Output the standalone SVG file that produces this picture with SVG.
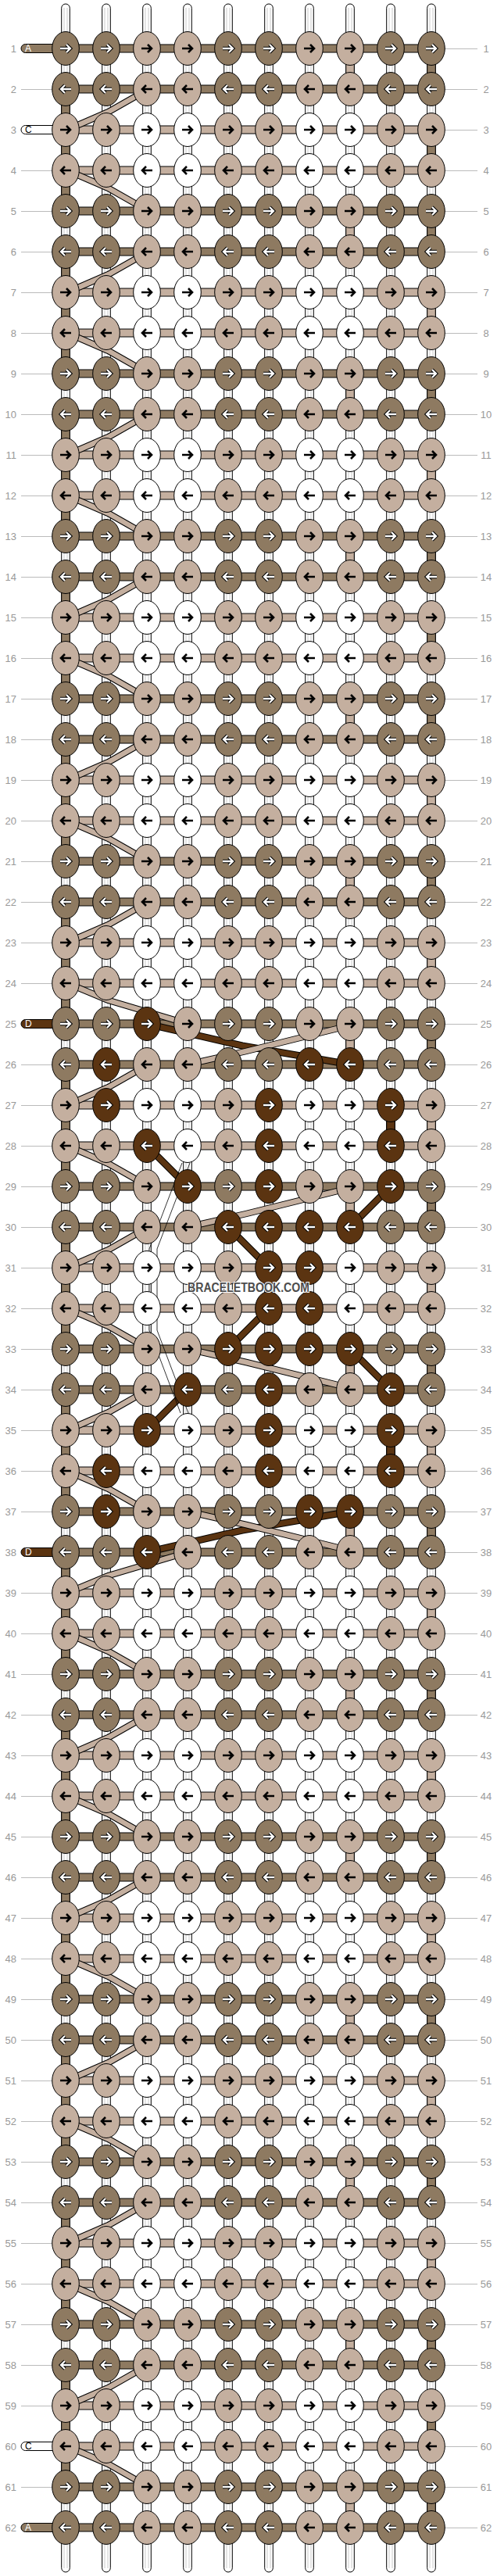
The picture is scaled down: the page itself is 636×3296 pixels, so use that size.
<svg xmlns="http://www.w3.org/2000/svg" xmlns:xlink="http://www.w3.org/1999/xlink" width="636" height="3296" viewBox="0 0 636 3296">
<style>
.e{stroke:#000;stroke-width:1}
.fa{fill:#8e7a61}.fb{fill:#c4af9f}.fc{fill:#fff}.fd{fill:#5b3411}
.ab{fill:none;stroke:#000;stroke-width:4.4}
.aw{fill:none;stroke:#fff;stroke-width:2.3}
.ak{fill:none;stroke:#000;stroke-width:2.6}
.vs{stroke:#000;stroke-width:1}
.col{fill:#fff;stroke:#000;stroke-width:1}
.cl{fill:none;stroke:#bbb;stroke-width:0.8}
.ll{fill:none;stroke:#bbb;stroke-width:1}
.lbl{font-family:"Liberation Sans",Arial,sans-serif;font-size:13px;fill:#999}
.lt{font-family:"Liberation Sans",Arial,sans-serif;font-size:12px}
.o{fill:none;stroke:#000;stroke-width:8.5;stroke-linejoin:round}
.t{fill:none;stroke:#c4af9f;stroke-width:6.5;stroke-linejoin:round}
.od{fill:none;stroke:#000;stroke-width:9;stroke-linejoin:round}
.d{fill:none;stroke:#5b3411;stroke-width:7;stroke-linejoin:round}
.thin{fill:none;stroke:#000;stroke-width:0.8}
</style>
<defs>
<path id="pR" d="M-7,0H5.5M1,-5L6,0L1,5"/>
<path id="pL" d="M7,0H-5.5M-1,-5L-6,0L-1,5"/>
<g id="wR"><use href="#pR" class="ab"/><use href="#pR" class="aw"/></g>
<g id="wL"><use href="#pL" class="ab"/><use href="#pL" class="aw"/></g>
<ellipse id="el" rx="17.3" ry="21.5"/>
<g id="AR"><use href="#el" class="e fa"/><use href="#wR"/></g>
<g id="AL"><use href="#el" class="e fa"/><use href="#wL"/></g>
<g id="DR"><use href="#el" class="e fd"/><use href="#wR"/></g>
<g id="DL"><use href="#el" class="e fd"/><use href="#wL"/></g>
<g id="BR"><use href="#el" class="e fb"/><use href="#pR" class="ak"/></g>
<g id="BL"><use href="#el" class="e fb"/><use href="#pL" class="ak"/></g>
<g id="CR"><use href="#el" class="e fc"/><use href="#pR" class="ak"/></g>
<g id="CL"><use href="#el" class="e fc"/><use href="#pL" class="ak"/></g>
<g id="rDR"><use href="#AR" x="84"/><use href="#AR" x="136"/><use href="#BR" x="188"/><use href="#BR" x="240"/><use href="#AR" x="292"/><use href="#AR" x="344"/><use href="#BR" x="396"/><use href="#BR" x="448"/><use href="#AR" x="500"/><use href="#AR" x="552"/></g>
<g id="rDL"><use href="#AL" x="84"/><use href="#AL" x="136"/><use href="#BL" x="188"/><use href="#BL" x="240"/><use href="#AL" x="292"/><use href="#AL" x="344"/><use href="#BL" x="396"/><use href="#BL" x="448"/><use href="#AL" x="500"/><use href="#AL" x="552"/></g>
<g id="rLR"><use href="#BR" x="84"/><use href="#BR" x="136"/><use href="#CR" x="188"/><use href="#CR" x="240"/><use href="#BR" x="292"/><use href="#BR" x="344"/><use href="#CR" x="396"/><use href="#CR" x="448"/><use href="#BR" x="500"/><use href="#BR" x="552"/></g>
<g id="rLL"><use href="#BL" x="84"/><use href="#BL" x="136"/><use href="#CL" x="188"/><use href="#CL" x="240"/><use href="#BL" x="292"/><use href="#BL" x="344"/><use href="#CL" x="396"/><use href="#CL" x="448"/><use href="#BL" x="500"/><use href="#BL" x="552"/></g>
<rect id="hb" x="84" y="-5" width="468" height="10"/>
<g id="V1"><rect x="442.7" y="19" width="10.6" height="14" class="vs fb"/><rect x="546.7" y="19" width="10.6" height="14" class="vs fa"/></g>
<rect id="V3" x="546.7" y="19" width="10.6" height="14" class="vs fb"/>
<rect id="V3a" x="546.7" y="19" width="10.6" height="14" class="vs fa"/>
<rect id="C1" x="78.7" y="0" width="10.6" height="118" class="vs fa"/>
<path id="t1" d="M86,52L139,29L190,0"/>
<path id="t2" d="M86,0L139,23L190,52"/>
<g id="T1"><use href="#t1" class="o"/><use href="#t1" class="t"/></g>
<g id="T2"><use href="#t2" class="o"/><use href="#t2" class="t"/></g>
</defs>
<rect width="636" height="3296" fill="#fff"/>
<path class="ll" d="M27,62.5H611M27,114.5H611M27,166.5H611M27,218.5H611M27,270.5H611M27,322.5H611M27,374.5H611M27,426.5H611M27,478.5H611M27,530.5H611M27,582.5H611M27,634.5H611M27,686.5H611M27,738.5H611M27,790.5H611M27,842.5H611M27,894.5H611M27,946.5H611M27,998.5H611M27,1050.5H611M27,1102.5H611M27,1154.5H611M27,1206.5H611M27,1258.5H611M27,1310.5H611M27,1362.5H611M27,1414.5H611M27,1466.5H611M27,1518.5H611M27,1570.5H611M27,1622.5H611M27,1674.5H611M27,1726.5H611M27,1778.5H611M27,1830.5H611M27,1882.5H611M27,1934.5H611M27,1986.5H611M27,2038.5H611M27,2090.5H611M27,2142.5H611M27,2194.5H611M27,2246.5H611M27,2298.5H611M27,2350.5H611M27,2402.5H611M27,2454.5H611M27,2506.5H611M27,2558.5H611M27,2610.5H611M27,2662.5H611M27,2714.5H611M27,2766.5H611M27,2818.5H611M27,2870.5H611M27,2922.5H611M27,2974.5H611M27,3026.5H611M27,3078.5H611M27,3130.5H611M27,3182.5H611M27,3234.5H611"/>
<g id="warps">
<rect class="col" x="78.7" y="5" width="10.6" height="3286" rx="5.3"/>
<rect class="col" x="130.7" y="5" width="10.6" height="3286" rx="5.3"/>
<rect class="col" x="182.7" y="5" width="10.6" height="3286" rx="5.3"/>
<rect class="col" x="234.7" y="5" width="10.6" height="3286" rx="5.3"/>
<rect class="col" x="286.7" y="5" width="10.6" height="3286" rx="5.3"/>
<rect class="col" x="338.7" y="5" width="10.6" height="3286" rx="5.3"/>
<rect class="col" x="390.7" y="5" width="10.6" height="3286" rx="5.3"/>
<rect class="col" x="442.7" y="5" width="10.6" height="3286" rx="5.3"/>
<rect class="col" x="494.7" y="5" width="10.6" height="3286" rx="5.3"/>
<rect class="col" x="546.7" y="5" width="10.6" height="3286" rx="5.3"/>
<path class="cl" d="M82,10V3286M86,10V3286M134,10V3286M138,10V3286M186,10V3286M190,10V3286M238,10V3286M242,10V3286M290,10V3286M294,10V3286M342,10V3286M346,10V3286M394,10V3286M398,10V3286M446,10V3286M450,10V3286M498,10V3286M502,10V3286M550,10V3286M554,10V3286"/>
</g>
<g id="vsegs">
<use href="#V1" y="62"/><use href="#V1" y="270"/><use href="#V1" y="478"/><use href="#V1" y="686"/><use href="#V1" y="894"/><use href="#V1" y="1102"/><use href="#V1" y="1310"/><use href="#V1" y="1518"/><use href="#V1" y="1726"/><use href="#V1" y="1934"/><use href="#V1" y="2142"/><use href="#V1" y="2350"/><use href="#V1" y="2558"/><use href="#V1" y="2766"/><use href="#V1" y="2974"/><use href="#V1" y="3182"/>
<use href="#V3a" y="166"/><use href="#V3" y="374"/><use href="#V3" y="582"/><use href="#V3a" y="790"/><use href="#V3" y="998"/><use href="#V3" y="1206"/><use href="#V3" y="1414"/><use href="#V3" y="1622"/><use href="#V3" y="1830"/><use href="#V3" y="2038"/><use href="#V3" y="2246"/><use href="#V3" y="2454"/><use href="#V3" y="2662"/><use href="#V3" y="2870"/><use href="#V3a" y="3078"/>
<use href="#C1" y="133"/><use href="#C1" y="341"/><use href="#C1" y="549"/><use href="#C1" y="757"/><use href="#C1" y="965"/><use href="#C1" y="1173"/><use href="#C1" y="1381"/><use href="#C1" y="1589"/><use href="#C1" y="1797"/><use href="#C1" y="2005"/><use href="#C1" y="2213"/><use href="#C1" y="2421"/><use href="#C1" y="2629"/><use href="#C1" y="2837"/><use href="#C1" y="3045"/>
<rect x="494.7" y="1433" width="10.6" height="14" class="vs fd"/>
<rect x="494.7" y="1849" width="10.6" height="14" class="vs fd"/>
</g>
<g id="bands">
<use href="#hb" class="vs fa" y="62"/><use href="#hb" class="vs fa" y="114"/><use href="#hb" class="vs fb" y="166"/><use href="#hb" class="vs fb" y="218"/>
<use href="#hb" class="vs fa" y="270"/><use href="#hb" class="vs fa" y="322"/><use href="#hb" class="vs fb" y="374"/><use href="#hb" class="vs fb" y="426"/>
<use href="#hb" class="vs fa" y="478"/><use href="#hb" class="vs fa" y="530"/><use href="#hb" class="vs fb" y="582"/><use href="#hb" class="vs fb" y="634"/>
<use href="#hb" class="vs fa" y="686"/><use href="#hb" class="vs fa" y="738"/><use href="#hb" class="vs fb" y="790"/><use href="#hb" class="vs fb" y="842"/>
<use href="#hb" class="vs fa" y="894"/><use href="#hb" class="vs fa" y="946"/><use href="#hb" class="vs fb" y="998"/><use href="#hb" class="vs fb" y="1050"/>
<use href="#hb" class="vs fa" y="1102"/><use href="#hb" class="vs fa" y="1154"/><use href="#hb" class="vs fb" y="1206"/><use href="#hb" class="vs fb" y="1258"/>
<use href="#hb" class="vs fa" y="1310"/><use href="#hb" class="vs fa" y="1362"/><use href="#hb" class="vs fb" y="1414"/><use href="#hb" class="vs fb" y="1466"/>
<use href="#hb" class="vs fa" y="1518"/><use href="#hb" class="vs fa" y="1570"/><use href="#hb" class="vs fb" y="1622"/><use href="#hb" class="vs fb" y="1674"/>
<use href="#hb" class="vs fa" y="1726"/><use href="#hb" class="vs fa" y="1778"/><use href="#hb" class="vs fb" y="1830"/><use href="#hb" class="vs fb" y="1882"/>
<use href="#hb" class="vs fa" y="1934"/><use href="#hb" class="vs fa" y="1986"/><use href="#hb" class="vs fb" y="2038"/><use href="#hb" class="vs fb" y="2090"/>
<use href="#hb" class="vs fa" y="2142"/><use href="#hb" class="vs fa" y="2194"/><use href="#hb" class="vs fb" y="2246"/><use href="#hb" class="vs fb" y="2298"/>
<use href="#hb" class="vs fa" y="2350"/><use href="#hb" class="vs fa" y="2402"/><use href="#hb" class="vs fb" y="2454"/><use href="#hb" class="vs fb" y="2506"/>
<use href="#hb" class="vs fa" y="2558"/><use href="#hb" class="vs fa" y="2610"/><use href="#hb" class="vs fb" y="2662"/><use href="#hb" class="vs fb" y="2714"/>
<use href="#hb" class="vs fa" y="2766"/><use href="#hb" class="vs fa" y="2818"/><use href="#hb" class="vs fb" y="2870"/><use href="#hb" class="vs fb" y="2922"/>
<use href="#hb" class="vs fa" y="2974"/><use href="#hb" class="vs fa" y="3026"/><use href="#hb" class="vs fb" y="3078"/><use href="#hb" class="vs fb" y="3130"/>
<use href="#hb" class="vs fa" y="3182"/><use href="#hb" class="vs fa" y="3234"/>
</g>
<g id="ends">
<g id="endA1"><rect x="27" y="56.5" width="50" height="11" rx="5.5" class="vs fa"/><text x="32" y="66.3" class="lt" fill="#fff">A</text></g>
<g id="endC3"><rect x="27" y="160.5" width="50" height="11" rx="5.5" class="vs fc"/><text x="32" y="170.3" class="lt" fill="#000">C</text></g>
<g id="endD25"><rect x="27" y="1304.5" width="50" height="11" rx="5.5" class="vs fd"/><text x="32" y="1314.3" class="lt" fill="#fff">D</text></g>
<g id="endD38"><rect x="27" y="1980.5" width="50" height="11" rx="5.5" class="vs fd"/><text x="32" y="1990.3" class="lt" fill="#fff">D</text></g>
<g id="endC60"><rect x="27" y="3124.5" width="50" height="11" rx="5.5" class="vs fc"/><text x="32" y="3134.3" class="lt" fill="#000">C</text></g>
<g id="endA62"><rect x="27" y="3228.5" width="50" height="11" rx="5.5" class="vs fa"/><text x="32" y="3238.3" class="lt" fill="#fff">A</text></g>
</g>
<g id="connectors">
<use href="#T1" y="114"/><use href="#T1" y="322"/><use href="#T1" y="530"/><use href="#T1" y="738"/><use href="#T1" y="946"/><use href="#T1" y="1154"/><use href="#T1" y="1362"/><use href="#T1" y="1570"/><use href="#T1" y="1778"/><use href="#T1" y="2194"/><use href="#T1" y="2402"/><use href="#T1" y="2610"/><use href="#T1" y="2818"/><use href="#T1" y="3026"/>
<use href="#T2" y="218"/><use href="#T2" y="426"/><use href="#T2" y="634"/><use href="#T2" y="842"/><use href="#T2" y="1050"/><use href="#T2" y="1466"/><use href="#T2" y="1674"/><use href="#T2" y="1882"/><use href="#T2" y="2090"/><use href="#T2" y="2298"/><use href="#T2" y="2506"/><use href="#T2" y="2714"/><use href="#T2" y="2922"/><use href="#T2" y="3130"/>
<path class="o" d="M86,1258L139,1280L240,1310"/><path class="t" d="M86,1258L139,1280L240,1310"/>
<path class="od" d="M188,1310L310,1338L448,1362"/><path class="d" d="M188,1310L310,1338L448,1362"/>
<path class="o" d="M448,1312L315,1345L240,1362"/><path class="t" d="M448,1312L315,1345L240,1362"/>
<path class="od" d="M188,1466L240,1518"/><path class="d" d="M188,1466L240,1518"/>
<path class="od" d="M500,1518L448,1570"/><path class="d" d="M500,1518L448,1570"/>
<path class="o" d="M448,1520L315,1553L240,1570"/><path class="t" d="M448,1520L315,1553L240,1570"/>
<path class="od" d="M292,1570L344,1622"/><path class="d" d="M292,1570L344,1622"/>
<path class="od" d="M344,1674L292,1726"/><path class="d" d="M344,1674L292,1726"/>
<path class="o" d="M240,1726L315,1743L448,1776"/><path class="t" d="M240,1726L315,1743L448,1776"/>
<path class="od" d="M448,1726L500,1778"/><path class="d" d="M448,1726L500,1778"/>
<path class="od" d="M240,1778L188,1830"/><path class="d" d="M240,1778L188,1830"/>
<path class="od" d="M448,1934L310,1958L188,1986"/><path class="d" d="M448,1934L310,1958L188,1986"/>
<path class="o" d="M240,1934L315,1951L448,1984"/><path class="t" d="M240,1934L315,1951L448,1984"/>
<path class="o" d="M240,1986L139,2016L86,2038"/><path class="t" d="M240,1986L139,2016L86,2038"/>
<path class="thin" d="M233,1488L191,1598L191,1702L231,1808M243,1488L201,1598L201,1702L241,1808"/>
</g>
<g id="knots">
<use id="row1" href="#rDR" y="62"/><use id="row2" href="#rDL" y="114"/><use id="row3" href="#rLR" y="166"/><use id="row4" href="#rLL" y="218"/>
<use id="row5" href="#rDR" y="270"/><use id="row6" href="#rDL" y="322"/><use id="row7" href="#rLR" y="374"/><use id="row8" href="#rLL" y="426"/>
<use id="row9" href="#rDR" y="478"/><use id="row10" href="#rDL" y="530"/><use id="row11" href="#rLR" y="582"/><use id="row12" href="#rLL" y="634"/>
<use id="row13" href="#rDR" y="686"/><use id="row14" href="#rDL" y="738"/><use id="row15" href="#rLR" y="790"/><use id="row16" href="#rLL" y="842"/>
<use id="row17" href="#rDR" y="894"/><use id="row18" href="#rDL" y="946"/><use id="row19" href="#rLR" y="998"/><use id="row20" href="#rLL" y="1050"/>
<use id="row21" href="#rDR" y="1102"/><use id="row22" href="#rDL" y="1154"/><use id="row23" href="#rLR" y="1206"/><use id="row24" href="#rLL" y="1258"/>
<g id="row25" transform="translate(0,1310)"><use href="#AR" x="84"/><use href="#AR" x="136"/><use href="#DR" x="188"/><use href="#BR" x="240"/><use href="#AR" x="292"/><use href="#AR" x="344"/><use href="#BR" x="396"/><use href="#BR" x="448"/><use href="#AR" x="500"/><use href="#AR" x="552"/></g>
<g id="row26" transform="translate(0,1362)"><use href="#AL" x="84"/><use href="#DL" x="136"/><use href="#BL" x="188"/><use href="#BL" x="240"/><use href="#AL" x="292"/><use href="#AL" x="344"/><use href="#DL" x="396"/><use href="#DL" x="448"/><use href="#AL" x="500"/><use href="#AL" x="552"/></g>
<g id="row27" transform="translate(0,1414)"><use href="#BR" x="84"/><use href="#DR" x="136"/><use href="#CR" x="188"/><use href="#CR" x="240"/><use href="#BR" x="292"/><use href="#DR" x="344"/><use href="#CR" x="396"/><use href="#CR" x="448"/><use href="#DR" x="500"/><use href="#BR" x="552"/></g>
<g id="row28" transform="translate(0,1466)"><use href="#BL" x="84"/><use href="#BL" x="136"/><use href="#DL" x="188"/><use href="#CL" x="240"/><use href="#BL" x="292"/><use href="#DL" x="344"/><use href="#CL" x="396"/><use href="#CL" x="448"/><use href="#DL" x="500"/><use href="#BL" x="552"/></g>
<g id="row29" transform="translate(0,1518)"><use href="#AR" x="84"/><use href="#AR" x="136"/><use href="#BR" x="188"/><use href="#DR" x="240"/><use href="#AR" x="292"/><use href="#DR" x="344"/><use href="#BR" x="396"/><use href="#BR" x="448"/><use href="#DR" x="500"/><use href="#AR" x="552"/></g>
<g id="row30" transform="translate(0,1570)"><use href="#AL" x="84"/><use href="#AL" x="136"/><use href="#BL" x="188"/><use href="#BL" x="240"/><use href="#DL" x="292"/><use href="#DL" x="344"/><use href="#DL" x="396"/><use href="#DL" x="448"/><use href="#AL" x="500"/><use href="#AL" x="552"/></g>
<g id="row31" transform="translate(0,1622)"><use href="#BR" x="84"/><use href="#BR" x="136"/><use href="#CR" x="188"/><use href="#CR" x="240"/><use href="#BR" x="292"/><use href="#DR" x="344"/><use href="#DR" x="396"/><use href="#CR" x="448"/><use href="#BR" x="500"/><use href="#BR" x="552"/></g>
<g id="row32" transform="translate(0,1674)"><use href="#BL" x="84"/><use href="#BL" x="136"/><use href="#CL" x="188"/><use href="#CL" x="240"/><use href="#BL" x="292"/><use href="#DL" x="344"/><use href="#DL" x="396"/><use href="#CL" x="448"/><use href="#BL" x="500"/><use href="#BL" x="552"/></g>
<g id="row33" transform="translate(0,1726)"><use href="#AR" x="84"/><use href="#AR" x="136"/><use href="#BR" x="188"/><use href="#BR" x="240"/><use href="#DR" x="292"/><use href="#DR" x="344"/><use href="#DR" x="396"/><use href="#DR" x="448"/><use href="#AR" x="500"/><use href="#AR" x="552"/></g>
<g id="row34" transform="translate(0,1778)"><use href="#AL" x="84"/><use href="#AL" x="136"/><use href="#BL" x="188"/><use href="#DL" x="240"/><use href="#AL" x="292"/><use href="#DL" x="344"/><use href="#BL" x="396"/><use href="#BL" x="448"/><use href="#DL" x="500"/><use href="#AL" x="552"/></g>
<g id="row35" transform="translate(0,1830)"><use href="#BR" x="84"/><use href="#BR" x="136"/><use href="#DR" x="188"/><use href="#CR" x="240"/><use href="#BR" x="292"/><use href="#DR" x="344"/><use href="#CR" x="396"/><use href="#CR" x="448"/><use href="#DR" x="500"/><use href="#BR" x="552"/></g>
<g id="row36" transform="translate(0,1882)"><use href="#BL" x="84"/><use href="#DL" x="136"/><use href="#CL" x="188"/><use href="#CL" x="240"/><use href="#BL" x="292"/><use href="#DL" x="344"/><use href="#CL" x="396"/><use href="#CL" x="448"/><use href="#DL" x="500"/><use href="#BL" x="552"/></g>
<g id="row37" transform="translate(0,1934)"><use href="#AR" x="84"/><use href="#DR" x="136"/><use href="#BR" x="188"/><use href="#BR" x="240"/><use href="#AR" x="292"/><use href="#AR" x="344"/><use href="#DR" x="396"/><use href="#DR" x="448"/><use href="#AR" x="500"/><use href="#AR" x="552"/></g>
<g id="row38" transform="translate(0,1986)"><use href="#AL" x="84"/><use href="#AL" x="136"/><use href="#DL" x="188"/><use href="#BL" x="240"/><use href="#AL" x="292"/><use href="#AL" x="344"/><use href="#BL" x="396"/><use href="#BL" x="448"/><use href="#AL" x="500"/><use href="#AL" x="552"/></g>
<use id="row39" href="#rLR" y="2038"/><use id="row40" href="#rLL" y="2090"/>
<use id="row41" href="#rDR" y="2142"/><use id="row42" href="#rDL" y="2194"/><use id="row43" href="#rLR" y="2246"/><use id="row44" href="#rLL" y="2298"/>
<use id="row45" href="#rDR" y="2350"/><use id="row46" href="#rDL" y="2402"/><use id="row47" href="#rLR" y="2454"/><use id="row48" href="#rLL" y="2506"/>
<use id="row49" href="#rDR" y="2558"/><use id="row50" href="#rDL" y="2610"/><use id="row51" href="#rLR" y="2662"/><use id="row52" href="#rLL" y="2714"/>
<use id="row53" href="#rDR" y="2766"/><use id="row54" href="#rDL" y="2818"/><use id="row55" href="#rLR" y="2870"/><use id="row56" href="#rLL" y="2922"/>
<use id="row57" href="#rDR" y="2974"/><use id="row58" href="#rDL" y="3026"/><use id="row59" href="#rLR" y="3078"/><use id="row60" href="#rLL" y="3130"/>
<use id="row61" href="#rDR" y="3182"/><use id="row62" href="#rDL" y="3234"/>
</g>
<g id="labels-left" class="lbl" text-anchor="end">
<text x="21" y="66.5">1</text><text x="21" y="118.5">2</text><text x="21" y="170.5">3</text><text x="21" y="222.5">4</text><text x="21" y="274.5">5</text><text x="21" y="326.5">6</text><text x="21" y="378.5">7</text><text x="21" y="430.5">8</text><text x="21" y="482.5">9</text><text x="21" y="534.5">10</text><text x="21" y="586.5">11</text><text x="21" y="638.5">12</text><text x="21" y="690.5">13</text><text x="21" y="742.5">14</text><text x="21" y="794.5">15</text><text x="21" y="846.5">16</text><text x="21" y="898.5">17</text><text x="21" y="950.5">18</text><text x="21" y="1002.5">19</text><text x="21" y="1054.5">20</text><text x="21" y="1106.5">21</text><text x="21" y="1158.5">22</text><text x="21" y="1210.5">23</text><text x="21" y="1262.5">24</text><text x="21" y="1314.5">25</text><text x="21" y="1366.5">26</text><text x="21" y="1418.5">27</text><text x="21" y="1470.5">28</text><text x="21" y="1522.5">29</text><text x="21" y="1574.5">30</text><text x="21" y="1626.5">31</text><text x="21" y="1678.5">32</text><text x="21" y="1730.5">33</text><text x="21" y="1782.5">34</text><text x="21" y="1834.5">35</text><text x="21" y="1886.5">36</text><text x="21" y="1938.5">37</text><text x="21" y="1990.5">38</text><text x="21" y="2042.5">39</text><text x="21" y="2094.5">40</text><text x="21" y="2146.5">41</text><text x="21" y="2198.5">42</text><text x="21" y="2250.5">43</text><text x="21" y="2302.5">44</text><text x="21" y="2354.5">45</text><text x="21" y="2406.5">46</text><text x="21" y="2458.5">47</text><text x="21" y="2510.5">48</text><text x="21" y="2562.5">49</text><text x="21" y="2614.5">50</text><text x="21" y="2666.5">51</text><text x="21" y="2718.5">52</text><text x="21" y="2770.5">53</text><text x="21" y="2822.5">54</text><text x="21" y="2874.5">55</text><text x="21" y="2926.5">56</text><text x="21" y="2978.5">57</text><text x="21" y="3030.5">58</text><text x="21" y="3082.5">59</text><text x="21" y="3134.5">60</text><text x="21" y="3186.5">61</text><text x="21" y="3238.5">62</text>
</g>
<g id="labels-right" class="lbl" text-anchor="middle">
<text x="622" y="66.5">1</text><text x="622" y="118.5">2</text><text x="622" y="170.5">3</text><text x="622" y="222.5">4</text><text x="622" y="274.5">5</text><text x="622" y="326.5">6</text><text x="622" y="378.5">7</text><text x="622" y="430.5">8</text><text x="622" y="482.5">9</text><text x="622" y="534.5">10</text><text x="622" y="586.5">11</text><text x="622" y="638.5">12</text><text x="622" y="690.5">13</text><text x="622" y="742.5">14</text><text x="622" y="794.5">15</text><text x="622" y="846.5">16</text><text x="622" y="898.5">17</text><text x="622" y="950.5">18</text><text x="622" y="1002.5">19</text><text x="622" y="1054.5">20</text><text x="622" y="1106.5">21</text><text x="622" y="1158.5">22</text><text x="622" y="1210.5">23</text><text x="622" y="1262.5">24</text><text x="622" y="1314.5">25</text><text x="622" y="1366.5">26</text><text x="622" y="1418.5">27</text><text x="622" y="1470.5">28</text><text x="622" y="1522.5">29</text><text x="622" y="1574.5">30</text><text x="622" y="1626.5">31</text><text x="622" y="1678.5">32</text><text x="622" y="1730.5">33</text><text x="622" y="1782.5">34</text><text x="622" y="1834.5">35</text><text x="622" y="1886.5">36</text><text x="622" y="1938.5">37</text><text x="622" y="1990.5">38</text><text x="622" y="2042.5">39</text><text x="622" y="2094.5">40</text><text x="622" y="2146.5">41</text><text x="622" y="2198.5">42</text><text x="622" y="2250.5">43</text><text x="622" y="2302.5">44</text><text x="622" y="2354.5">45</text><text x="622" y="2406.5">46</text><text x="622" y="2458.5">47</text><text x="622" y="2510.5">48</text><text x="622" y="2562.5">49</text><text x="622" y="2614.5">50</text><text x="622" y="2666.5">51</text><text x="622" y="2718.5">52</text><text x="622" y="2770.5">53</text><text x="622" y="2822.5">54</text><text x="622" y="2874.5">55</text><text x="622" y="2926.5">56</text><text x="622" y="2978.5">57</text><text x="622" y="3030.5">58</text><text x="622" y="3082.5">59</text><text x="622" y="3134.5">60</text><text x="622" y="3186.5">61</text><text x="622" y="3238.5">62</text>
</g>
<text id="watermark" x="318" y="1653" text-anchor="middle" font-family="'Liberation Sans',Arial,sans-serif" font-weight="bold" font-size="16" textLength="156" lengthAdjust="spacingAndGlyphs" fill="#4d4d4d" stroke="#fff" stroke-width="2" paint-order="stroke">BRACELETBOOK.COM</text>
</svg>
